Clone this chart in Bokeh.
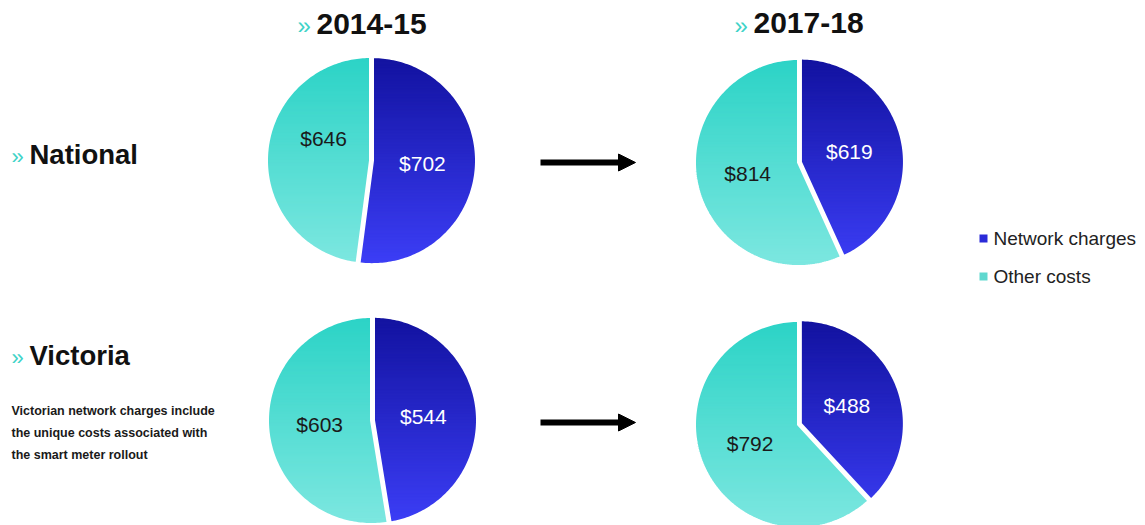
import numpy as np
from bokeh.plotting import figure
from bokeh.models import Range1d, Arrow, NormalHead
from bokeh.core.properties import value
from bokeh.embed import file_html
from bokeh.resources import INLINE

# ---------------- data ----------------
regions = ["National", "Victoria"]
periods = ["2014-15", "2017-18"]
series = ["Network charges", "Other costs"]
national_network = [702, 619]
national_other = [646, 814]
victoria_network = [544, 488]
victoria_other = [603, 792]
note_lines = ["Victorian network charges include",
              "the unique costs associated with",
              "the smart meter rollout"]

# ---------------- layout / style ----------------
W, H = 1145, 525
def Y(y):
    return H - y

PIE_CX = [[370, 798], [371, 798]]
PIE_CY = [[160, 162], [420, 424]]
R = 104
EXPLODE = 2.0
GRAD = {"Network charges": ("#12129f", "#3c3ef6"),
        "Other costs": ("#2bd3c6", "#7de7e0")}
LABEL_COL = {"Network charges": "#ffffff", "Other costs": "#1a1a1a"}
TURQ = "#3fd3c8"
FONT = value("Liberation Sans")
N_BANDS = 70

p = figure(width=W, height=H, x_range=Range1d(0, W), y_range=Range1d(0, H),
           output_backend="svg", toolbar_location=None, x_axis_type=None, y_axis_type=None,
           min_border=0)
p.grid.visible = False
p.outline_line_color = None
p.background_fill_color = "white"


def hex2rgb(h):
    h = h.lstrip("#")
    return np.array([int(h[i:i + 2], 16) for i in (0, 2, 4)], dtype=float)


def mix(c0, c1, t):
    c = hex2rgb(c0) * (1 - t) + hex2rgb(c1) * t
    return "#%02x%02x%02x" % tuple(int(round(v)) for v in c)


def clip_half(pts, keep, c):
    out = []
    n = len(pts)
    for i in range(n):
        cur = pts[i]
        prev = pts[i - 1]
        cin, pin = keep(cur), keep(prev)
        if cin != pin:
            t = (c - prev[1]) / (cur[1] - prev[1])
            out.append((prev[0] + t * (cur[0] - prev[0]), c))
        if cin:
            out.append(cur)
    return out


def clip_band(pts, y0, y1):
    a = clip_half(pts, lambda q: q[1] >= y0, y0)
    if not a:
        return a
    return clip_half(a, lambda q: q[1] <= y1, y1)


rows = {"National": (national_network, national_other),
        "Victoria": (victoria_network, victoria_other)}

lab_x, lab_y, lab_t, lab_c = [], [], [], []
band_xs, band_ys, band_col = [], [], []
out_xs, out_ys = [], []

for ri, reg in enumerate(regions):
    net, oth = rows[reg]
    for pi in range(len(periods)):
        vals = [net[pi], oth[pi]]
        total = float(sum(vals))
        cx, cy = PIE_CX[ri][pi], Y(PIE_CY[ri][pi])
        start = 90.0
        for si, s in enumerate(series):
            frac = vals[si] / total
            end = start - 360.0 * frac
            mid = np.radians((start + end) / 2)
            ex = EXPLODE if si == 0 else 0.0
            ox, oy = cx + ex * np.cos(mid), cy + ex * np.sin(mid)
            ang = np.radians(np.linspace(start, end, 160))
            poly = [(ox, oy)] + list(zip(ox + R * np.cos(ang), oy + R * np.sin(ang)))
            top, bot = cy + R, cy - R
            h = (top - bot) / N_BANDS
            c0, c1 = GRAD[s]
            for k in range(N_BANDS):
                y1 = top - k * h + 0.3
                y0 = top - (k + 1) * h - 0.3
                b = clip_band(poly, y0, y1)
                if len(b) >= 3:
                    band_xs.append([q[0] for q in b])
                    band_ys.append([q[1] for q in b])
                    band_col.append(mix(c0, c1, (k + 0.5) / N_BANDS))
            out_xs.append([q[0] for q in poly])
            out_ys.append([q[1] for q in poly])
            lr = 0.5 * R
            lab_x.append(cx + lr * np.cos(mid))
            lab_y.append(cy + lr * np.sin(mid))
            lab_t.append("$%d" % vals[si])
            lab_c.append(LABEL_COL[s])
            start = end

# small manual nudge for one label placed differently in the original
lab_x[1] += 5
lab_y[1] += 19

p.patches(band_xs, band_ys, fill_color=band_col, line_color=band_col, line_width=1)
p.patches(out_xs, out_ys, fill_alpha=0, line_color="white", line_width=3, line_join="round")
p.text(lab_x, lab_y, text=lab_t, text_color=lab_c, text_font=FONT, text_font_size="21px",
       text_align="center", text_baseline="middle")

# titles
title_x = [316, 753]
title_mid = [23, 22.5]
p.text([tx - 19 for tx in title_x], [Y(b + 2) for b in title_mid], text=["»", "»"], text_color=TURQ,
       text_font=FONT, text_font_size="24px", text_align="left", text_baseline="middle")
p.text(title_x, [Y(b) for b in title_mid], text=periods, text_color="#111111",
       text_font=FONT, text_font_size="30px", text_font_style="bold",
       text_align="left", text_baseline="middle")

# row labels
row_mid = [154, 355]
p.text([11, 11], [Y(b + 2) for b in row_mid], text=["»", "»"], text_color=TURQ,
       text_font=FONT, text_font_size="22px", text_align="left", text_baseline="middle")
p.text([29, 29], [Y(b) for b in row_mid], text=regions, text_color="#111111",
       text_font=FONT, text_font_size="27.5px", text_font_style="bold",
       text_align="left", text_baseline="middle")

# note
note_y = [410, 432, 454]
p.text([11] * 3, [Y(v) for v in note_y], text=note_lines, text_color="#1a1a1a",
       text_font=FONT, text_font_size="12.5px", text_font_style="bold",
       text_align="left", text_baseline="middle")

# arrows
for ay in [162, 422]:
    p.add_layout(Arrow(end=NormalHead(size=17, fill_color="black", line_color="black"),
                       x_start=540, y_start=Y(ay), x_end=635, y_end=Y(ay),
                       line_color="black", line_width=6))

# legend
leg_y = [238, 276]
p.scatter([983, 983], [Y(v) for v in leg_y], marker="square", size=8,
          fill_color=["#2a2ad8", "#5fd8cf"], line_color=None)
p.text([993, 993], [Y(v) for v in leg_y], text=series, text_color="#222222",
       text_font=FONT, text_font_size="19px", text_align="left", text_baseline="middle")

open("out.html", "w").write(file_html(p, INLINE))
